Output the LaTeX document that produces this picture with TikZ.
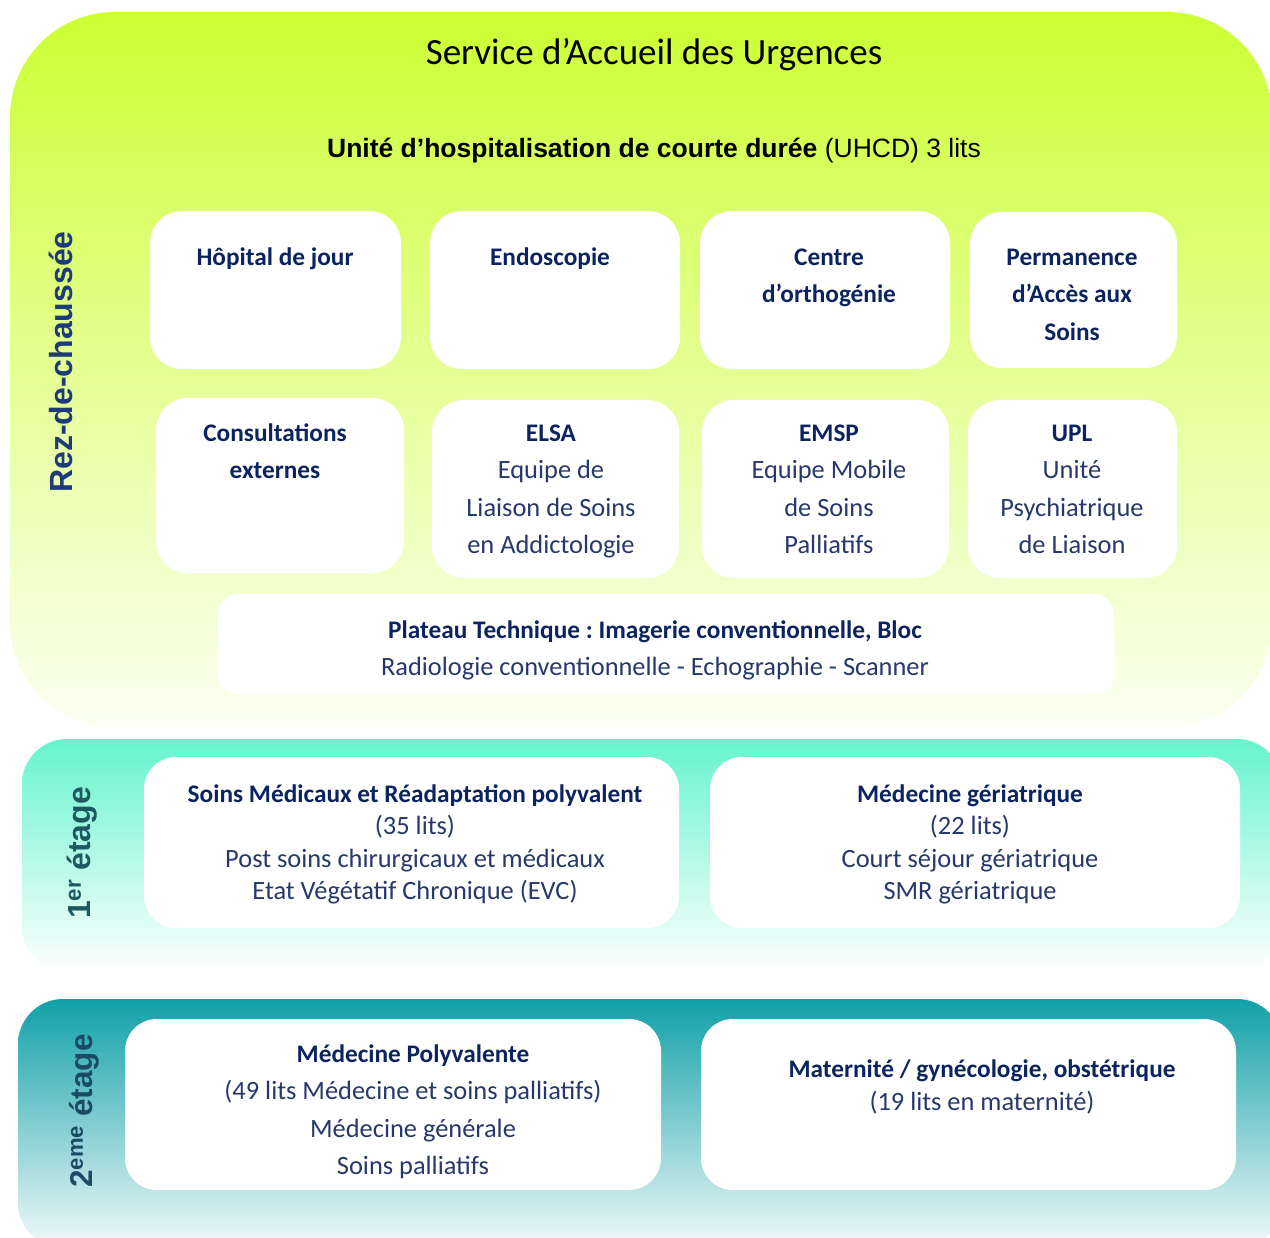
\documentclass[tikz,border=0pt]{standalone}
\usepackage{fontspec}
\setmainfont{Carlito}
\newfontfamily\arialfont{Liberation Sans}
\frenchspacing
\definecolor{navyA}{HTML}{0B2461}
\definecolor{navyB}{HTML}{26396C}
\definecolor{gTop}{HTML}{CCFF33}
\definecolor{gBot}{HTML}{FCFFF3}
\definecolor{mTop}{HTML}{66F4CD}
\definecolor{mBot}{HTML}{FFFFFF}
\definecolor{tTop}{HTML}{11A0A8}
\definecolor{tBot}{HTML}{F2FAFA}
\definecolor{rezc}{HTML}{1F3A78}
\definecolor{etA}{HTML}{1C5A60}
\definecolor{etB}{HTML}{1A4A65}
\newcommand\firststrut{\rule{0pt}{22pt}}
\newcommand\boxtitle[1]{{\fontsize{25.3}{\baselineskip}\selectfont\bfseries\color{navyA}#1}}
\begin{document}
\begin{tikzpicture}[x=1pt,y=-1pt,
  every node/.style={inner sep=0pt},
  wbox/.style={fill=white, draw=none, rounded corners=32pt},
  txt/.style={align=center, anchor=north, text=navyB, font=\fontsize{26.4}{37.5}\selectfont},
  txtb/.style={txt, font=\fontsize{26.4}{32.5}\selectfont},
  txtc/.style={txt, font=\fontsize{26.4}{33}\selectfont},
  rotlabel/.style={rotate=90, anchor=base, font=\arialfont\bfseries\fontsize{32}{32}\selectfont}]
\useasboundingbox (0,0) rectangle (1270,1238);
\clip (0,0) rectangle (1270,1238);
% floor backgrounds
\path[top color=gTop, bottom color=gBot, rounded corners=105pt] (10,12) rectangle (1272,728);
\path[top color=mTop, bottom color=mBot, rounded corners=45pt] (22,739) rectangle (1282,972);
\path[top color=tTop, bottom color=tBot, rounded corners=45pt] (18,999) rectangle (1282,1248);
% headings
\node[anchor=base, font=\fontsize{37}{37}\selectfont] (title) at (654,65) {Service d’Accueil des Urgences};
\node[anchor=base, font=\arialfont\fontsize{26.5}{26.5}\selectfont] (uhcd) at (654,158) {\textbf{Unité d’hospitalisation de courte durée} (UHCD) 3 lits};
% floor labels
\node[rotlabel, text=rezc] (rez) at (72,362) {Rez-de-chaussée};
\node[rotlabel, text=etA] (et1) at (90,853) {1\textsuperscript{er} étage};
\node[rotlabel, text=etB, font=\arialfont\bfseries\fontsize{31.5}{31.5}\selectfont] (et2) at (92,1111) {2\textsuperscript{eme} étage};
% ground floor boxes
\node[wbox, minimum width=251pt, minimum height=158pt] (hop) at (275.5,290) {};
\node[wbox, minimum width=250pt, minimum height=158pt] (endo) at (555,290) {};
\node[wbox, minimum width=250pt, minimum height=158pt] (ortho) at (825,290) {};
\node[wbox, minimum width=207pt, minimum height=156pt] (pas) at (1073.5,290) {};
\node[wbox, minimum width=248pt, minimum height=175pt] (consult) at (280,485.5) {};
\node[wbox, minimum width=247pt, minimum height=178pt] (elsa) at (555.5,489) {};
\node[wbox, minimum width=247pt, minimum height=178pt] (emsp) at (825.5,489) {};
\node[wbox, minimum width=209pt, minimum height=178pt] (upl) at (1072.5,489) {};
\node[wbox, rounded corners=20pt, minimum width=896pt, minimum height=100pt] (plateau) at (666,644) {};
% first floor boxes
\node[wbox, minimum width=535pt, minimum height=171pt] (smr) at (411.5,842.5) {};
\node[wbox, minimum width=530pt, minimum height=171pt] (geri) at (975,842.5) {};
% second floor boxes
\node[wbox, minimum width=536pt, minimum height=171pt] (medpoly) at (393,1104.5) {};
\node[wbox, minimum width=535pt, minimum height=171pt] (mater) at (968.5,1104.5) {};
% texts
\node[txt] (hopt) at (275,243) {\firststrut\boxtitle{Hôpital de jour}};
\node[txt] (endot) at (550,243) {\firststrut\boxtitle{Endoscopie}};
\node[txt] (orthot) at (829,243) {\firststrut\boxtitle{Centre}\\\boxtitle{d’orthogénie}};
\node[txt] (past) at (1072,243) {\firststrut\boxtitle{Permanence}\\\boxtitle{d’Accès aux}\\\boxtitle{Soins}};
\node[txt] (consultt) at (275,419) {\firststrut\boxtitle{Consultations}\\\boxtitle{externes}};
\node[txt] (elsat) at (551,419) {\firststrut\boxtitle{ELSA}\\Equipe de\\Liaison de Soins\\en Addictologie};
\node[txt] (emspt) at (829,419) {\firststrut\boxtitle{EMSP}\\Equipe Mobile\\de Soins\\Palliatifs};
\node[txt] (uplt) at (1072,419) {\firststrut\boxtitle{UPL}\\Unité\\Psychiatrique\\de Liaison};
\node[txt, font=\fontsize{26.4}{37}\selectfont] (plateaut) at (655,616) {\firststrut\boxtitle{Plateau Technique : Imagerie conventionnelle, Bloc}\\Radiologie conventionnelle - Echographie - Scanner};
\node[txtb] (smrt) at (415,780) {\firststrut\boxtitle{Soins Médicaux et Réadaptation polyvalent}\\(35 lits)\\Post soins chirurgicaux et médicaux\\Etat Végétatif Chronique (EVC)};
\node[txtb] (gerit) at (970,780) {\firststrut\boxtitle{Médecine gériatrique}\\(22 lits)\\Court séjour gériatrique\\SMR gériatrique};
\node[txt] (medpolyt) at (413,1040) {\firststrut\boxtitle{Médecine Polyvalente}\\(49 lits Médecine et soins palliatifs)\\Médecine générale\\Soins palliatifs};
\node[txtc] (matert) at (982,1055) {\firststrut\boxtitle{Maternité / gynécologie, obstétrique}\\(19 lits en maternité)};
\end{tikzpicture}
\end{document}
